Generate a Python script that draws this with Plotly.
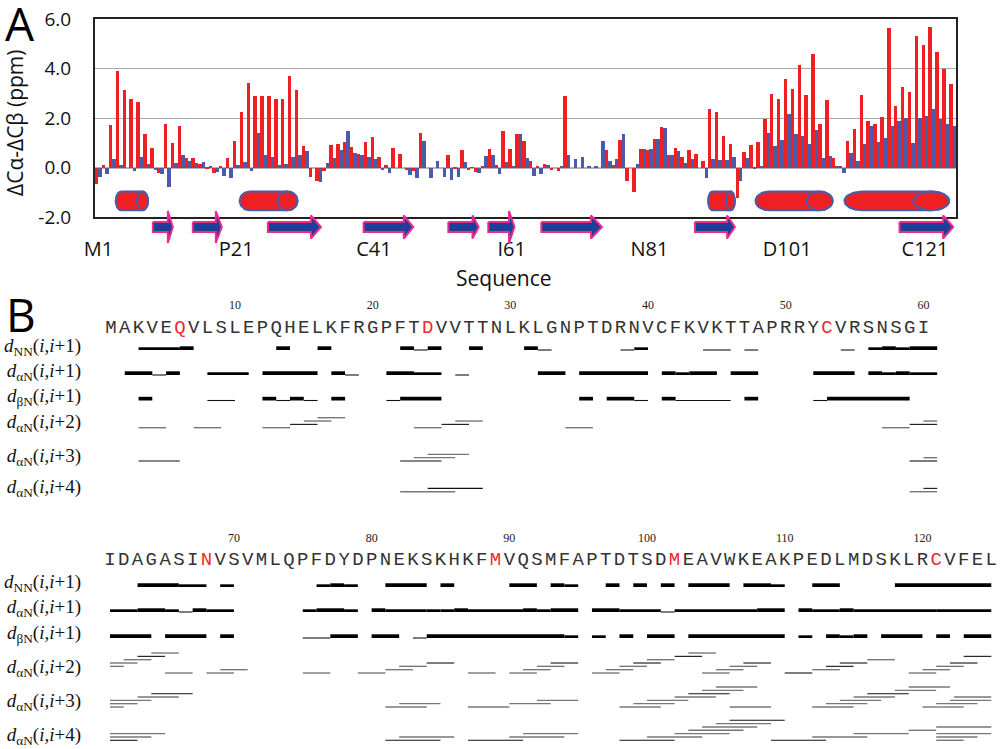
import numpy as np
import plotly.graph_objects as go

# --- panel A data: secondary chemical shifts per residue
red = [-0.65, 0.1, 1.7, 3.9, 3.15, 2.75, 2.63, 1.37, 0.78, -0.22,
       1.76, 0.98, 1.66, 0.37, 0.37, 0.15, -0.07, -0.22, 0.08, 0.37,
       1.06, 2.23, 3.43, 2.9, 2.88, 2.88, 2.78, 2.78, 3.7, 3.15,
       0.87, -0.38, -0.56, -0.13, 0.9, 0.94, 1.03, 0.82, 0.54, 1.02,
       1.22, 0.43, 0.1, 0.77, 0.54, -0.12, -0.13, 1.38, 0, 0,
       0, 0.52, -0.04, 0.69, -0.1, -0.19, 0.03, 0.74, 0.12, 1.49,
       0.73, 1.34, 1.08, 0.27, 0.05, 0.13, -0.11, -0.13, 2.88, 0,
       0, 0, 0, 0, 0.71, 0.09, 1.12, -0.56, -0.97, 0.74,
       0.7, 1.16, 1.63, 0.51, 0.77, 0.43, 0.7, 0.54, 0.27, 2.38,
       2.23, 1.26, 0.95, -1.24, 0.62, 0.9, 1.03, 1.96, 2.98, 2.77,
       3.56, 3.16, 4.13, 2.92, 4.57, 1.75, 2.73, 0.4, 0.08, 1.08,
       1.57, 2.92, 1.88, 1.77, 2.04, 5.65, 2.5, 3.24, 3.05, 5.31,
       4.93, 5.66, 4.66, 3.97, 3.37]
blue = [-0.38, -0.27, 0.33, 0.09, 0, -0.16, 0.43, 0.16, -0.1, -0.25,
        -0.78, 0.2, 0.52, 0.27, 0.19, 0.23, 0.05, -0.19, -0.34, -0.43,
        0.1, 0.22, -0.16, 1.41, 0.5, 0.43, 0.09, 0.16, 0.44, 0.5,
        0.67, 0, -0.6, 0.17, 0.39, 0.71, 1.48, 0.6, 0.51, 0.43,
        0.35, -0.1, -0.22, 0, 0, -0.3, -0.43, 1.09, -0.42, 0.27,
        -0.4, -0.5, -0.4, 0.22, -0.02, -0.24, 0.46, 0.51, -0.27, 0.23,
        0.03, 1.34, 0.4, -0.34, -0.27, 0.09, 0, 0.05, 0.5, 0.36,
        0.43, 0.04, 0.03, 1.08, 0.26, 0.36, 1.34, 0, 0.16, 0.75,
        0.75, 1.16, 1.59, 0.51, 0.67, 0.19, 0.34, 0, -0.43, 0.35,
        0.31, 0.3, 0.44, -0.54, 0.4, -0.07, 0.03, 1.41, 0.87, 1.12,
        2.15, 1.34, 1.29, 0.94, 1.52, 0.38, 0.47, 0.05, -0.22, 0.6,
        0.26, 0.95, 1.68, 1.05, 1.21, 1.68, 1.88, 2.02, 0.97, 1.99,
        2.08, 2.37, 1.96, 1.77, 1.68]
residues = list(range(1, 126))
seq_ticks = [1, 21, 41, 61, 81, 101, 121]
seq_labels = ["M1", "P21", "C41", "I61", "N81", "D101", "C121"]

# secondary structure, in residue numbers
helix_start = [3.5, 21.5, 89.5, 96.4, 109.3]
helix_end = [8.2, 29.9, 93.4, 107.6, 124.5]
helix_cap = [0.8, 1.45, 0.65, 1.9, 2.6]
strand_start = [8.9, 14.7, 25.6, 39.5, 51.8, 57.6, 65.3, 87.6, 117.3]
strand_end = [11.8, 18.9, 33.3, 46.7, 56.2, 61.4, 74.1, 93.4, 125.1]

# --- panel B data
sequence = ("MAKVEQVLSLEPQHELKFRGPFTDVVTTNLKLGNPTDRNVCFKVKTTAPRRYCVRSNSGI"
            "IDAGASINVSVMLQPFDYDPNEKSKHKFMVQSMFAPTDTSDMEAVWKEAKPEDLMDSKLRCVFEL")
marked = [6, 24, 53, 68, 89, 102, 121]
row_labels = ["<i>d</i><sub>NN</sub>(<i>i</i>,<i>i</i>+1)",
              "<i>d</i><sub>αN</sub>(<i>i</i>,<i>i</i>+1)",
              "<i>d</i><sub>βN</sub>(<i>i</i>,<i>i</i>+1)",
              "<i>d</i><sub>αN</sub>(<i>i</i>,<i>i</i>+2)",
              "<i>d</i><sub>αN</sub>(<i>i</i>,<i>i</i>+3)",
              "<i>d</i><sub>αN</sub>(<i>i</i>,<i>i</i>+4)"]

# NOE contacts: (from residue, to residue, class, stack level)
# class 3 strong, 2 medium, 1 weak, 0 weak (grey)
noe_nn = [(3, 6, 2, 0), (6, 7, 3, 0), (13, 14, 3, 0), (16, 17, 3, 0), (22, 23, 3, 0),
          (23, 24, 1, 0), (24, 25, 3, 0), (27, 28, 3, 0), (31, 32, 3, 0), (32, 33, 1, 0),
          (38, 39, 1, 0), (39, 40, 2, 0), (44, 46, 1, 0), (47, 48, 1, 0), (54, 55, 1, 0),
          (56, 57, 2, 0), (57, 58, 3, 0), (58, 59, 2, 0), (59, 61, 3, 0),
          (63, 66, 3, 0), (66, 68, 2, 0), (69, 70, 2, 0), (76, 77, 2, 0), (77, 78, 3, 0),
          (78, 79, 2, 0), (81, 84, 3, 0), (85, 86, 3, 0), (90, 92, 3, 0), (93, 94, 3, 0),
          (94, 95, 2, 0), (97, 98, 3, 0), (99, 100, 3, 0), (101, 102, 3, 0), (103, 106, 3, 0),
          (107, 109, 3, 0), (109, 110, 2, 0), (112, 114, 3, 0), (118, 125, 3, 0)]
noe_an1 = [(2, 4, 3, 0), (4, 5, 1, 0), (5, 6, 3, 0), (8, 11, 2, 0), (12, 16, 3, 0),
           (17, 18, 3, 0), (18, 19, 1, 0), (21, 23, 3, 0), (23, 25, 2, 0), (26, 27, 1, 0),
           (32, 34, 3, 0), (35, 40, 3, 0), (41, 42, 3, 0), (42, 43, 2, 0), (43, 45, 3, 0),
           (46, 48, 3, 0), (52, 55, 3, 0), (56, 57, 3, 0), (57, 58, 2, 0), (58, 59, 3, 0),
           (59, 61, 2, 0),
           (61, 63, 2, 0), (63, 65, 3, 0), (65, 66, 2, 0), (66, 67, 1, 0), (67, 68, 3, 0),
           (68, 70, 2, 0), (75, 76, 2, 0), (76, 78, 3, 0), (78, 79, 2, 0), (80, 81, 3, 0),
           (81, 84, 2, 0), (84, 85, 2, 0), (85, 86, 2, 0), (86, 87, 3, 0), (87, 91, 2, 0),
           (91, 92, 3, 0), (92, 93, 2, 0), (93, 95, 3, 0), (96, 98, 3, 0), (98, 101, 2, 0),
           (101, 102, 1, 0), (102, 108, 2, 0), (108, 110, 3, 0), (111, 112, 3, 0),
           (112, 114, 2, 0), (114, 115, 3, 0), (115, 121, 2, 0), (121, 125, 2, 0)]
noe_bn1 = [(3, 4, 3, 0), (8, 10, 1, 0), (12, 13, 3, 0), (13, 14, 1, 0), (14, 15, 3, 0),
           (15, 16, 1, 0), (17, 18, 3, 0), (21, 22, 1, 0), (22, 25, 3, 0), (35, 36, 3, 0),
           (37, 39, 3, 0), (39, 40, 1, 0), (41, 42, 3, 0), (42, 46, 1, 0), (47, 48, 3, 0),
           (52, 53, 1, 0), (53, 59, 3, 0),
           (61, 64, 3, 0), (65, 68, 3, 0), (69, 70, 3, 0), (75, 77, 1, 0), (77, 79, 3, 0),
           (80, 82, 3, 0), (83, 84, 1, 0), (84, 94, 3, 0), (94, 95, 2, 0), (96, 97, 2, 0),
           (98, 99, 3, 0), (100, 102, 3, 0), (103, 110, 3, 0), (111, 112, 2, 0), (113, 114, 3, 0),
           (114, 115, 2, 0), (115, 116, 3, 0), (117, 120, 3, 0), (121, 122, 3, 0), (123, 125, 3, 0)]
noe_an2 = [(3, 5, 0, 0), (7, 9, 0, 0), (12, 14, 0, 0), (14, 16, 1, 1), (15, 17, 0, 2),
           (16, 18, 0, 3), (23, 25, 0, 0), (25, 27, 1, 1), (26, 28, 0, 2), (34, 36, 0, 0),
           (57, 59, 0, 0), (59, 61, 1, 1), (60, 61, 0, 2),
           (61, 62, 0, 2), (61, 63, 0, 3), (62, 64, 0, 4), (63, 65, 1, 5), (64, 66, 0, 6),
           (65, 67, 0, 0), (68, 70, 0, 0), (69, 71, 0, 1), (75, 77, 0, 0), (79, 81, 0, 0),
           (81, 83, 0, 1), (82, 84, 0, 2), (84, 86, 1, 3), (87, 89, 0, 0), (90, 92, 0, 0),
           (91, 93, 0, 1), (92, 94, 0, 2), (93, 95, 1, 3), (96, 98, 0, 0), (97, 99, 0, 1),
           (98, 100, 0, 2), (99, 101, 1, 3), (100, 102, 0, 4), (102, 104, 1, 5), (103, 105, 0, 6),
           (104, 106, 0, 0), (105, 107, 0, 1), (106, 108, 0, 2), (107, 109, 1, 3), (110, 112, 1, 0),
           (112, 114, 0, 1), (113, 115, 1, 2), (114, 116, 1, 3), (116, 118, 0, 4), (119, 121, 0, 0),
           (120, 122, 0, 1), (121, 123, 0, 2), (122, 124, 1, 3), (123, 125, 1, 5)]
noe_an3 = [(3, 6, 1, 0), (22, 25, 1, 0), (23, 26, 0, 1), (24, 27, 0, 2), (59, 61, 1, 0), (60, 61, 0, 1),
           (61, 62, 0, 0), (61, 63, 0, 1), (61, 64, 0, 2), (63, 66, 0, 3), (64, 67, 1, 4),
           (81, 84, 0, 0), (82, 85, 0, 1), (87, 90, 0, 0), (90, 93, 0, 1), (92, 95, 0, 2),
           (98, 101, 0, 0), (99, 102, 0, 1), (100, 103, 0, 2), (102, 105, 0, 3), (103, 106, 1, 4),
           (104, 107, 0, 5), (105, 108, 0, 6), (106, 109, 0, 0), (112, 115, 0, 0), (113, 116, 0, 1),
           (114, 117, 0, 2), (115, 118, 0, 3), (116, 119, 1, 4), (118, 121, 0, 5), (119, 122, 0, 6),
           (120, 121, 0, 0), (121, 123, 0, 0), (121, 124, 0, 1), (122, 125, 0, 2), (122.3, 125, 0, 3)]
noe_an4 = [(22, 26, 0, 0), (24, 28, 1, 1), (59, 61, 0, 0), (60, 61, 1, 1),
           (61, 63, 1, 0), (61, 64, 0, 1), (61, 65, 0, 2), (81, 85, 1, 0), (82, 86, 0, 1),
           (87, 91, 1, 0), (90, 94, 0, 1), (91, 95, 0, 2), (98, 102, 1, 0), (100, 104, 0, 1),
           (102, 106, 0, 2), (103, 107, 0, 3), (104, 108, 0, 4), (105, 109, 0, 5), (106, 110, 1, 6),
           (109, 113, 1, 0), (112, 116, 0, 1), (115, 119, 0, 2), (119, 121, 0, 3),
           (121, 123, 0, 0), (121, 124, 0, 1), (121, 125, 0, 2), (121, 125, 0, 4)]

W, H = 1000, 749
RED = "#ee2024"
BLUE = "#4a5ba8"
NAVY = "#1f3d99"
PINK = "#e92d8c"
SERIF = "Liberation Serif"
SANS = "Open Sans"


def xdom(a, b):
    return [a / W, b / W]


def ydom(top, bottom):
    return [1 - bottom / H, 1 - top / H]


fig = go.Figure()

# panel A bars
fig.add_trace(go.Bar(x=residues, y=red, marker=dict(color=RED, line_width=0), xaxis="x", yaxis="y"))
fig.add_trace(go.Bar(x=residues, y=blue, marker=dict(color=BLUE, line_width=0), xaxis="x", yaxis="y"))


def ellipse_side(cx, rx, a, b):
    t = np.linspace(a, b, 30)
    return cx + rx * np.cos(t), -1.35 + 0.38 * np.sin(t)


# helices: capsule with the end ellipse on top
for s, e, c in zip(helix_start, helix_end, helix_cap):
    lx, ly = ellipse_side(s + c, c, np.pi / 2, 3 * np.pi / 2)
    rx, ry = ellipse_side(e - c, c, -np.pi / 2, np.pi / 2)
    fig.add_trace(go.Scatter(x=np.r_[lx, rx, lx[0]], y=np.r_[ly, ry, ly[0]], mode="lines", fill="toself",
                             fillcolor=RED, line=dict(color=BLUE, width=2), xaxis="x", yaxis="y"))
    ex, ey = ellipse_side(e - c, c, 0, 2 * np.pi)
    fig.add_trace(go.Scatter(x=ex, y=ey, mode="lines", fill="toself",
                             fillcolor=RED, line=dict(color=BLUE, width=2), xaxis="x", yaxis="y"))

# strands: drawn on their own band under the frame, y is in pixels there
RES_PX = (956 - 95) / 125
for s, e in zip(strand_start, strand_end):
    length_px = (e - s) * RES_PX
    head = np.clip(0.17 * length_px + 1, 5, 11) / RES_PX
    half_head = 16 if length_px <= 30 else 11.5
    ax = [s, e - head, e - head, e, e - head, e - head, s, s]
    ay = [-5, -5, -half_head, 0, half_head, 5, 5, -5]
    fig.add_trace(go.Scatter(x=ax, y=ay, mode="lines", fill="toself", fillcolor=NAVY,
                             line=dict(color=PINK, width=2), xaxis="x", yaxis="y3"))

# panel B: letters and NOE bars
NOE_STYLE = {3: (3.7, "#000000"), 2: (2.7, "#000000"), 1: (1.1, "#111111"), 0: (1.4, "#777777")}
STEP = 3.33


def noe_traces(rows, first, last, xaxis, yaxis):
    # rows: list of (contacts, baseline in px on this axis)
    for cls, (w, color) in NOE_STYLE.items():
        xs, ys = [], []
        for contacts, base in rows:
            for a, b, c, lev in contacts:
                if c == cls and a >= first and b <= last:
                    y = base - lev * STEP - (w / 2 if cls >= 2 else 0)
                    xs += [a, b, None]
                    ys += [y, y, None]
        fig.add_trace(go.Scatter(x=xs, y=ys, mode="lines", line=dict(color=color, width=w),
                                 xaxis=xaxis, yaxis=yaxis))


def seq_trace(first, last, y, xaxis, yaxis):
    res = list(range(first, last + 1))
    fig.add_trace(go.Scatter(x=res, y=[y] * len(res), mode="text", text=[sequence[r - 1] for r in res],
                             textposition="middle center", cliponaxis=False,
                             textfont=dict(family="Liberation Mono", size=19,
                                           color=["#ee2a2e" if r in marked else "#333333" for r in res]),
                             xaxis=xaxis, yaxis=yaxis))


noe_traces([(noe_nn, 350), (noe_an1, 375), (noe_bn1, 400.5), (noe_an2, 427.7), (noe_an3, 461), (noe_an4, 491.7)],
           1, 61, "x2", "y2")
noe_traces([(noe_nn, 587), (noe_an1, 612), (noe_bn1, 638), (noe_an2, 673), (noe_an3, 707), (noe_an4, 740.3)],
           61, 125, "x3", "y4")
seq_trace(1, 60, 328.5, "x2", "y2")
seq_trace(61, 125, 560.5, "x3", "y4")

for tr in fig.data:
    tr.hoverinfo = "skip"

fig.update_layout(
    width=W, height=H, margin=dict(l=0, r=0, t=0, b=0), autosize=False,
    paper_bgcolor="white", plot_bgcolor="rgba(0,0,0,0)",
    showlegend=False, barmode="group", bargap=0, bargroupgap=0,
    xaxis=dict(domain=xdom(95, 956), range=[0.5, 125.5], tickvals=seq_ticks, ticktext=seq_labels,
               anchor="y", showgrid=False, zeroline=False, ticks="", ticklabelstandoff=13, automargin=False,
               showline=True, mirror=True, linecolor="#222222", linewidth=2,
               tickfont=dict(family=SANS, size=20, color="#111111")),
    yaxis=dict(domain=ydom(19, 217), range=[-2, 6], tickvals=[-2, 0, 2, 4, 6], automargin=False,
               ticktext=["-2.0", "0.0", "2.0", "4.0", "6.0"], anchor="x", ticklabelstandoff=18,
               showgrid=True, gridcolor="#a9a9a9", gridwidth=1, zeroline=True, zerolinecolor="#b5b5b5",
               zerolinewidth=2, ticks="", showline=True, mirror=True, linecolor="#222222", linewidth=2,
               tickfont=dict(family=SANS, size=19, color="#111111")),
    yaxis3=dict(domain=ydom(205, 249), range=[22, -22], anchor="x", visible=False, automargin=False),
    # pixel-scaled rows: one residue is 13.77 px wide on both lines
    xaxis2=dict(domain=xdom(85, 1000), range=[1 - 26 / 13.77, 1 + 889 / 13.77], anchor="y2", side="top",
                tickvals=[10, 20, 30, 40, 50, 60], showgrid=False, zeroline=False, ticks="", automargin=False,
                ticklabelstandoff=2, tickfont=dict(family=SERIF, size=12, color="#222222")),
    yaxis2=dict(domain=ydom(314, 500), range=[500, 314], anchor="x2", tickvals=[345.7, 370, 395.7, 421, 455, 486],
                ticktext=row_labels, showgrid=False, zeroline=False, ticks="", automargin=False,
                ticklabelstandoff=3, tickfont=dict(family=SERIF, size=19, color="#111111")),
    xaxis3=dict(domain=xdom(85, 1000), range=[61 - 25 / 13.77, 61 + 890 / 13.77], anchor="y4", side="top",
                tickvals=[70, 80, 90, 100, 110, 120], showgrid=False, zeroline=False, ticks="", automargin=False,
                ticklabelstandoff=1, tickfont=dict(family=SERIF, size=12, color="#222222")),
    yaxis4=dict(domain=ydom(546, 749), range=[749, 546], anchor="x3", tickvals=[581, 606, 632, 666, 700, 734],
                ticktext=row_labels, showgrid=False, zeroline=False, ticks="", automargin=False,
                ticklabelstandoff=3, ticklabeloverflow="allow",
                tickfont=dict(family=SERIF, size=19, color="#111111")),
    annotations=[
        dict(text="A", x=3 / W, y=1 - 23 / H, xref="paper", yref="paper", xanchor="left", yanchor="middle",
             showarrow=False, font=dict(family=SANS, size=46, color="#000000")),
        dict(text="B", x=4 / W, y=1 - 314 / H, xref="paper", yref="paper", xanchor="left", yanchor="middle",
             showarrow=False, font=dict(family=SANS, size=46, color="#000000")),
        dict(text="Sequence", x=504 / W, y=1 - 278 / H, xref="paper", yref="paper", xanchor="center", yanchor="middle",
             showarrow=False, font=dict(family=SANS, size=21, color="#111111")),
        dict(text="ΔCα-ΔCβ (ppm)", x=15 / W, y=1 - 123 / H, xref="paper", yref="paper", xanchor="center",
             yanchor="middle", textangle=-90, showarrow=False, font=dict(family=SANS, size=21, color="#111111")),
    ],
)

# the default page body has an 8px margin that would push the figure off the window
fig.write_html("out.html", config=dict(displayModeBar=False), post_script="document.body.style.margin = '0';")
